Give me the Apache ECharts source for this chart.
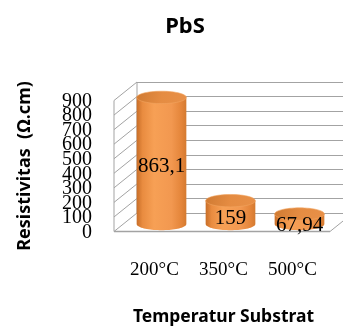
<!DOCTYPE html>
<html><head><meta charset="utf-8">
<script src="https://cdn.jsdelivr.net/npm/echarts@6/dist/echarts.min.js"></script>
<style>html,body{margin:0;padding:0;background:#fff}#c{width:343px;height:326px}</style>
</head><body><div id="c"></div>
<script>
const categories = ['200°C', '350°C', '500°C'];
const values = [863.1, 159, 67.94];
const valueLabels = ['863,1', '159', '67,94'];
const yMin = 0, yMax = 900, yStep = 100;

const DX = -23, DY = 18.5;
const gridColor = '#a3a3a3';

const chart = echarts.init(document.getElementById('c'));

function wallRender(params, api) {
  const cs = params.coordSys;
  const x0 = cs.x;
  const ch = [];
  const ln = (x1, y1, x2, y2, w) => ch.push({type: 'line', shape: {x1, y1, x2, y2}, style: {stroke: gridColor, lineWidth: w || 1}});
  const yb = v => api.coord([0, v])[1];
  for (let v = yMin; v <= yMax; v += yStep) {
    ln(x0, yb(v), x0 + DX, yb(v) + DY);
    ch.push({type: 'text', style: {text: String(v), x: x0 + DX - 22, y: yb(v) + DY + 1, align: 'right', verticalAlign: 'middle',
      fontFamily: 'Liberation Serif', fontSize: 20, fill: '#000'}});
  }
  ln(x0, yb(yMax), x0, yb(yMin));
  ln(x0 + DX, yb(yMax) + DY, x0 + DX, yb(yMin) + DY);
  const fx2 = x0 + cs.width + DX;
  ln(x0 + DX, yb(yMin) + DY, fx2, yb(yMin) + DY, 1.5);
  ln(fx2, yb(yMin) + DY, fx2 - DX, yb(yMin));
  return {type: 'group', children: ch};
}

function ellipsePts(cx, cy, rx, ry, t0, t1, n) {
  const pts = [];
  for (let i = 0; i <= n; i++) {
    const t = t0 + (t1 - t0) * i / n;
    pts.push([cx + rx * Math.cos(t), cy + ry * Math.sin(t)]);
  }
  return pts;
}

function cylRender(params, api) {
  const i = api.value(0), v = api.value(1);
  const top = api.coord([i, v]), base = api.coord([i, 0]);
  const w = api.size([1, 0])[0] * 0.72;
  const rx = w / 2, ry = 6.2, cx = top[0];
  const body = [[cx - rx, top[1]]].concat(ellipsePts(cx, base[1], rx, ry, Math.PI, 0, 40)).concat([[cx + rx, top[1]]]);
  const bodyFill = new echarts.graphic.LinearGradient(0, 0, 1, 0, [
    {offset: 0, color: '#c86e28'}, {offset: 0.12, color: '#e98c40'}, {offset: 0.35, color: '#f7a055'},
    {offset: 0.7, color: '#f29850'}, {offset: 0.9, color: '#e4853a'}, {offset: 1, color: '#d47a30'}]);
  const topFill = new echarts.graphic.LinearGradient(0, 0, 1, 1, [
    {offset: 0, color: '#cf7a32'}, {offset: 0.5, color: '#e58c42'}, {offset: 1, color: '#e89048'}]);
  return {type: 'group', children: [
    {type: 'polygon', shape: {points: body}, style: {fill: bodyFill}},
    {type: 'polygon', shape: {points: ellipsePts(cx, top[1], rx, ry, 0, Math.PI * 2, 60)}, style: {fill: topFill, stroke: '#f2a560', lineWidth: 0.6}},
    {type: 'text', z2: 10, style: {text: valueLabels[i], x: cx, y: (top[1] + base[1]) / 2 + 6, align: 'center', verticalAlign: 'middle',
      fontFamily: 'Liberation Serif', fontSize: 21, fill: '#000'}}
  ]};
}

chart.setOption({
  animation: false,
  backgroundColor: '#fff',
  title: {text: 'PbS', left: 180, top: 22, textAlign: 'center', textVerticalAlign: 'middle',
    textStyle: {fontFamily: 'Noto Sans', fontWeight: 'bold', fontSize: 22, color: '#000'}},
  grid: [
    {left: 137, top: 82, width: 216, height: 131, outerBoundsMode: 'none', containLabel: false},
    {left: 114, top: 100, width: 216, height: 132, outerBoundsMode: 'none', containLabel: false},
    {left: 127, top: 92, width: 207, height: 132, outerBoundsMode: 'none', containLabel: false},
    {left: 120, top: 100, width: 207, height: 132, outerBoundsMode: 'none', containLabel: false}
  ],
  xAxis: [0, 1, 2, 3].map(g => ({
    type: 'category', gridIndex: g, data: categories,
    show: g === 3,
    axisLine: {show: false}, axisTick: {show: false},
    axisLabel: {show: g === 3, margin: 29, fontFamily: 'Liberation Serif', fontSize: 19, color: '#000'},
    name: g === 3 ? 'Temperatur Substrat' : '', nameLocation: 'middle', nameGap: 76,
    nameTextStyle: {fontFamily: 'Noto Sans', fontWeight: 'bold', fontSize: 17.5, color: '#000'}
  })),
  yAxis: [0, 1, 2, 3].map(g => ({
    type: 'value', gridIndex: g, min: yMin, max: yMax, interval: yStep,
    show: g === 0 || g === 1,
    axisLine: {show: false}, axisTick: {show: false},
    splitLine: {show: g === 0, lineStyle: {color: gridColor, width: 1}},
    axisLabel: {show: false},
    name: g === 1 ? 'Resistivitas  (Ω.cm)' : '', nameLocation: 'middle', nameGap: 80, nameRotate: 90,
    nameTextStyle: {fontFamily: 'Noto Sans', fontWeight: 'bold', fontSize: 18, color: '#000'}
  })),
  series: [
    {type: 'custom', xAxisIndex: 0, yAxisIndex: 0, z: 1, data: [[0, 0]], renderItem: wallRender, silent: true},
    {type: 'custom', xAxisIndex: 2, yAxisIndex: 2, z: 5, data: values.map((v, i) => [i, v]), renderItem: cylRender}
  ]
});
</script></body></html>
